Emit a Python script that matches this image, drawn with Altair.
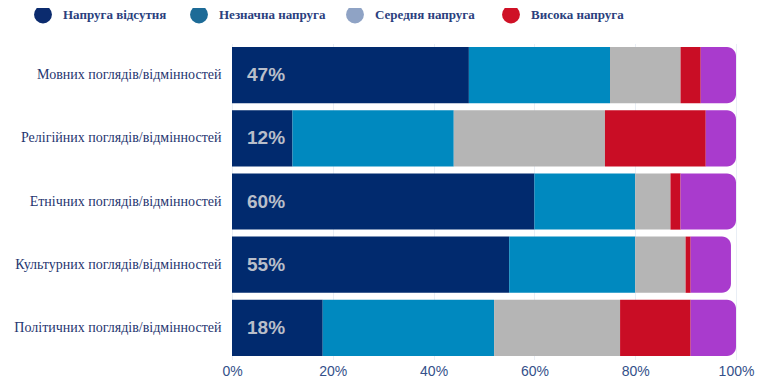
import altair as alt
import pandas as pd

categories = [
    "Мовних поглядів/відмінностей",
    "Релігійних поглядів/відмінностей",
    "Етнічних поглядів/відмінностей",
    "Культурних поглядів/відмінностей",
    "Політичних поглядів/відмінностей",
]
series = ["Напруга відсутня", "Незначна напруга", "Середня напруга", "Висока напруга", "Важко відповісти"]

no_tension = [47, 12, 60, 55, 18]
slight_tension = [28, 32, 20, 25, 34]
medium_tension = [14, 30, 7, 10, 25]
high_tension = [4, 20, 2, 1, 14]
hard_to_say = [7, 6, 11, 8, 9]

x_ticks = [0, 20, 40, 60, 80, 100]

bar_colors = ["#012a6e", "#0089bf", "#b5b5b5", "#c90d25", "#a93bcd"]
legend_colors = ["#0b2b6e", "#1d6b97", "#8fa3c5", "#cf1126"]

values = [no_tension, slight_tension, medium_tension, high_tension, hard_to_say]
rows = []
for i, c in enumerate(categories):
    start = 0
    for j, s in enumerate(series):
        v = values[j][i]
        rows.append(dict(cat=c, series=s, order=j, start=start, end=start + v,
                         value=v, label=f"{v}%"))
        start += v
df = pd.DataFrame(rows)

y_enc = alt.Y(
    "cat:N", sort=categories,
    scale=alt.Scale(paddingInner=0.11, paddingOuter=0.055),
    axis=alt.Axis(title=None, labelFont="Liberation Serif", labelFontSize=14,
                  labelColor="#1f3670", labelPadding=11, ticks=False, domain=False,
                  labelLimit=300),
)
x_scale = alt.Scale(domain=[0, 100], nice=False)
x_axis = alt.Axis(values=x_ticks, labelExpr="datum.value + '%'", title=None,
                  grid=True, gridColor="#e9eef5", ticks=False, domain=False,
                  labelFont="Liberation Sans", labelFontSize=14, labelFlush=False,
                  labelColor="#34508a", labelPadding=5)

base = alt.Chart(df)

legend_layer = base.transform_filter("datum.order < 4").mark_circle(size=320, opacity=1).encode(
    x=alt.datum(50, scale=x_scale),
    y=y_enc,
    color=alt.Color(
        "series:N",
        scale=alt.Scale(domain=series[:4], range=legend_colors),
        legend=alt.Legend(
            title=None, orient="none", legendX=-198, legendY=-38,
            direction="horizontal", columns=4, gridAlign="all",
            symbolType="circle", symbolSize=320, symbolStrokeWidth=0,
            labelFont="Liberation Serif", labelFontWeight="bold",
            labelFontSize=13, labelColor="#2b3f7e", labelOffset=11,
            columnPadding=20, padding=0, labelLimit=200,
        ),
    ),
)

bars = base.transform_filter("datum.order < 4").mark_bar().encode(
    x=alt.X("start:Q", scale=x_scale, axis=x_axis),
    x2="end:Q",
    y=y_enc,
    color=alt.Color("series:N", scale=alt.Scale(domain=series, range=bar_colors), legend=None),
)

bars_end = base.transform_filter("datum.order == 4").mark_bar(
    cornerRadiusTopRight=9, cornerRadiusBottomRight=9
).encode(
    x=alt.X("start:Q", scale=x_scale, axis=x_axis),
    x2="end:Q",
    y=y_enc,
    color=alt.Color("series:N", scale=alt.Scale(domain=series, range=bar_colors), legend=None),
)

labels = base.transform_filter("datum.order == 0").mark_text(
    align="left", baseline="middle", dx=15, font="Liberation Sans",
    fontWeight="bold", fontSize=19, color="#b9bec9"
).encode(
    x=alt.datum(0, scale=x_scale),
    y=y_enc,
    text="label:N",
)

chart = alt.layer(legend_layer, bars, bars_end, labels).resolve_scale(
    color="independent"
).properties(
    width=504, height=316,
    padding={"left": 224, "top": 35.5, "right": 20, "bottom": 20},
    autosize="none",
).configure_view(stroke=None)

chart.save("out.html", embed_options={"renderer": "svg", "actions": False})
